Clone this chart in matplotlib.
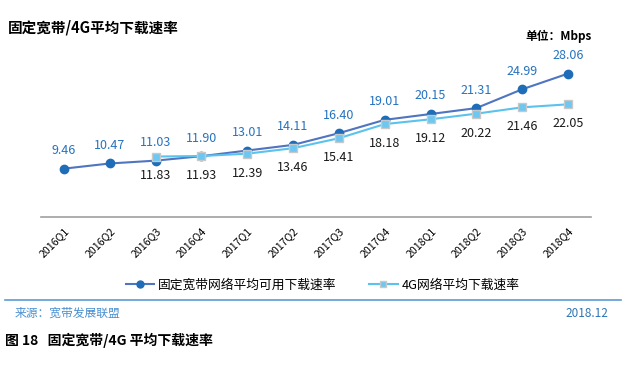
import numpy as np
import matplotlib.pyplot as plt
from matplotlib.lines import Line2D

plt.rcParams['font.family'] = ['Noto Sans CJK SC', 'DejaVu Sans']

quarters = ['2016Q1', '2016Q2', '2016Q3', '2016Q4', '2017Q1', '2017Q2',
            '2017Q3', '2017Q4', '2018Q1', '2018Q2', '2018Q3', '2018Q4']
fixed_bb = [9.46, 10.47, 11.03, 11.90, 13.01, 14.11, 16.40, 19.01, 20.15, 21.31, 24.99, 28.06]
lte_q = quarters[2:]
lte = [11.83, 11.93, 12.39, 13.46, 15.41, 18.18, 19.12, 20.22, 21.46, 22.05]

fig = plt.figure(figsize=(6.3, 3.65), dpi=100)
ax = fig.add_axes([0.065, 0.4055, 0.873, 0.49])

x = np.arange(len(quarters))
x4 = np.arange(2, len(quarters))

ax.plot(x, fixed_bb, color='#4F74C0', lw=1.5, marker='o', ms=6,
        mfc='#1F6DB8', mec='#1F6DB8', zorder=3)
ax.plot(x4, lte, color='#5BC2EE', lw=1.5, marker='s', ms=6,
        mfc='#6CC7F2', mec='#C8C8C8', mew=1, zorder=4)

for xi, v in zip(x, fixed_bb):
    ax.annotate(f'{v:.2f}', (xi, v), xytext=(0, 13), textcoords='offset points',
                ha='center', va='center', fontsize=9, color='#2673C0')
for xi, v in zip(x4, lte):
    ax.annotate(f'{v:.2f}', (xi, v), xytext=(0, -14), textcoords='offset points',
                ha='center', va='center', fontsize=9, color='#1A1A1A')

ax.set_xlim(-0.5, len(quarters) - 0.5)
ax.set_ylim(0, 35)
ax.set_xticks(x)
ax.set_xticklabels(quarters, rotation=45, ha='right', rotation_mode='anchor', fontsize=7.6)
ax.tick_params(axis='x', length=0, pad=6)
ax.set_yticks([])
for s in ['top', 'right', 'left']:
    ax.spines[s].set_visible(False)
ax.spines['bottom'].set_color('#A0A0A0')
ax.spines['bottom'].set_linewidth(1.2)

handles = [
    Line2D([], [], color='#4F74C0', lw=1.5, marker='o', ms=5, mfc='#1F6DB8', mec='#1F6DB8'),
    Line2D([], [], color='#5BC2EE', lw=1.5, marker='s', ms=5, mfc='#6CC7F2', mec='#C8C8C8'),
]
fig.legend(handles, ['固定宽带网络平均可用下载速率', '4G网络平均下载速率'],
           loc='center', bbox_to_anchor=(0.512, 0.218), ncol=2, frameon=False,
           fontsize=9.2, handlelength=2.2, handletextpad=0.3, columnspacing=2.6)

fig.text(0.013, 0.925, '固定宽带/4G平均下载速率', fontsize=10.5, fontweight='bold',
         va='center', ha='left')
fig.text(0.94, 0.9, '单位：Mbps', fontsize=8.5, fontweight='bold', va='center', ha='right')

fig.add_artist(Line2D([0.008, 0.985], [0.178, 0.178], color='#5B9BD5', lw=1.2))
fig.text(0.024, 0.142, '来源：宽带发展联盟', fontsize=8.5, color='#4A90D0', va='center')
fig.text(0.965, 0.142, '2018.12', fontsize=8.5, color='#2E75B6', va='center', ha='right')
fig.text(0.008, 0.068, '图 18   固定宽带/4G 平均下载速率', fontsize=10, fontweight='bold',
         va='center', ha='left')

fig.savefig('out.png', dpi=100)
